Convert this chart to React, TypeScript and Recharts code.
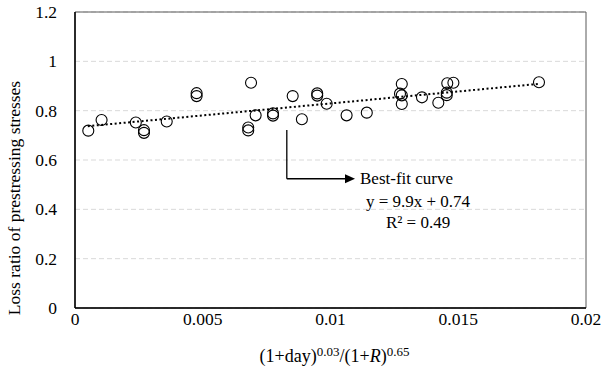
import {
  ScatterChart,
  Scatter,
  XAxis,
  YAxis,
  CartesianGrid,
  ReferenceLine,
  ReferenceArea,
  ReferenceDot,
  Label
} from "recharts";

// measured points (x = (1+day)^0.03/(1+R)^0.65, y = loss ratio)
const xValues = [
  0.00052, 0.00104, 0.00238, 0.0027, 0.0027, 0.00359, 0.00476, 0.00476,
  0.00678, 0.00678, 0.00689, 0.00707, 0.00775, 0.00775, 0.00852, 0.00888,
  0.00948, 0.00948, 0.00985, 0.01063, 0.01142, 0.01279, 0.01272, 0.01279,
  0.01279, 0.01358, 0.01422, 0.01457, 0.01481, 0.01455, 0.01455, 0.01816
];
const yValues = [
  0.719, 0.762, 0.752, 0.721, 0.71, 0.756, 0.871, 0.859,
  0.732, 0.72, 0.913, 0.781, 0.789, 0.78, 0.859, 0.765,
  0.87, 0.861, 0.828, 0.781, 0.792, 0.908, 0.869, 0.862,
  0.827, 0.854, 0.832, 0.911, 0.913, 0.873, 0.863, 0.915
];

// best-fit line ends
const fitX = [0.0005, 0.0182];
const fitY = [0.737, 0.909];

// arrow path (elbow) in data units
const arrowX = [0.00829, 0.00829, 0.01096];
const arrowY = [0.722, 0.524, 0.524];

const xTicks = [0, 0.005, 0.01, 0.015, 0.02];
const yTicks = [0, 0.2, 0.4, 0.6, 0.8, 1, 1.2];

const annotation = ["Best-fit curve", "y = 9.9x + 0.74", "R² = 0.49"];

const points = xValues.map((x, i) => ({ x, y: yValues[i] }));

const FONT = "'Liberation Serif', 'Times New Roman', serif";
const serif = { fontFamily: FONT };

const circle = (props: any) => (
  <circle cx={props.cx} cy={props.cy} r={5.5} fill="none" stroke="#000" strokeWidth={1.1} />
);

const arrowShape = (props: any) => {
  const { x1, y1, x2, y2 } = props;
  return (
    <g>
      <line x1={x1} y1={y1} x2={x2 - 8} y2={y2} stroke="#000" strokeWidth={1.3} />
      <polygon points={`${x2},${y2} ${x2 - 10},${y2 - 4.5} ${x2 - 10},${y2 + 4.5}`} fill="#000" />
    </g>
  );
};

const noteShape = (props: any) => {
  const { cx, cy } = props;
  return (
    <g style={serif} fontSize={17} fill="#000">
      <text x={cx + 5} y={cy + 5} style={serif}>{annotation[0]}</text>
      <text x={cx + 63} y={cy + 28} textAnchor="middle" style={serif}>{annotation[1]}</text>
      <text x={cx + 63} y={cy + 49} textAnchor="middle" style={serif}>{annotation[2]}</text>
    </g>
  );
};

const xTick = (props: any) => {
  const { x, y, payload } = props;
  return (
    <text x={x} y={y + 17} textAnchor="middle" fontSize={17.5} fill="#000" style={serif}>
      {String(payload.value)}
    </text>
  );
};

const yTick = (props: any) => {
  const { x, y, payload } = props;
  return (
    <text x={x} y={y + 6} textAnchor="end" fontSize={17.5} fill="#000" style={serif}>
      {String(payload.value)}
    </text>
  );
};

const xTitle = (props: any) => {
  const { viewBox } = props;
  const cx = viewBox.x + viewBox.width / 2 + 4;
  const y = viewBox.y + 54;
  return (
    <text x={cx} y={y} textAnchor="middle" fontSize={18} fill="#000" style={serif}>
      <tspan>(1+day)</tspan>
      <tspan fontSize={13} dy={-6}>0.03</tspan>
      <tspan dy={6}>/(1+</tspan>
      <tspan fontStyle="italic">R</tspan>
      <tspan>)</tspan>
      <tspan fontSize={13} dy={-6}>0.65</tspan>
    </text>
  );
};

const yTitle = (props: any) => {
  const { viewBox } = props;
  const x = 20;
  const y = viewBox.y + viewBox.height / 2 + 38;
  return (
    <text x={x} y={y} transform={`rotate(-90, ${x}, ${y})`} textAnchor="middle" fontSize={17.5} fill="#000" style={serif}>
      Loss ratio of prestressing stresses
    </text>
  );
};

export default function App() {
  return (
    <div style={{ position: "absolute", left: 0, top: 0, background: "#fff", fontFamily: FONT }}>
      <ScatterChart width={603} height={379} margin={{ top: 12, right: 17, left: 0, bottom: 0 }} style={serif}>
        <CartesianGrid horizontal vertical={false} stroke="#d9d9d9" strokeDasharray="5 3" />
        <ReferenceArea x1={0} x2={0.02} y1={0} y2={1.2} fill="none" stroke="#595959" strokeWidth={1} ifOverflow="visible" />
        <XAxis
          type="number"
          dataKey="x"
          domain={[0, 0.02]}
          ticks={xTicks}
          tickLine={false}
          tickSize={0}
          tickMargin={0}
          height={71}
          axisLine={{ stroke: "#000", strokeWidth: 1.5 }}
          tick={xTick}
        >
          <Label content={xTitle} />
        </XAxis>
        <YAxis
          type="number"
          dataKey="y"
          domain={[0, 1.2]}
          ticks={yTicks}
          tickLine={false}
          tickSize={0}
          tickMargin={18}
          width={75}
          axisLine={{ stroke: "#000", strokeWidth: 1.5 }}
          tick={yTick}
        >
          <Label content={yTitle} />
        </YAxis>
        <ReferenceLine
          segment={[{ x: fitX[0], y: fitY[0] }, { x: fitX[1], y: fitY[1] }]}
          stroke="#000"
          strokeWidth={2}
          strokeDasharray="2 2.5"
        />
        <Scatter data={points} shape={circle} isAnimationActive={false} />
        <ReferenceLine
          segment={[{ x: arrowX[0], y: arrowY[0] }, { x: arrowX[1], y: arrowY[1] }]}
          stroke="#000"
          strokeWidth={1.3}
        />
        <ReferenceLine
          segment={[{ x: arrowX[1], y: arrowY[1] }, { x: arrowX[2], y: arrowY[2] }]}
          shape={arrowShape}
        />
        <ReferenceDot x={arrowX[2]} y={arrowY[2]} r={0} shape={noteShape} />
      </ScatterChart>
    </div>
  );
}
